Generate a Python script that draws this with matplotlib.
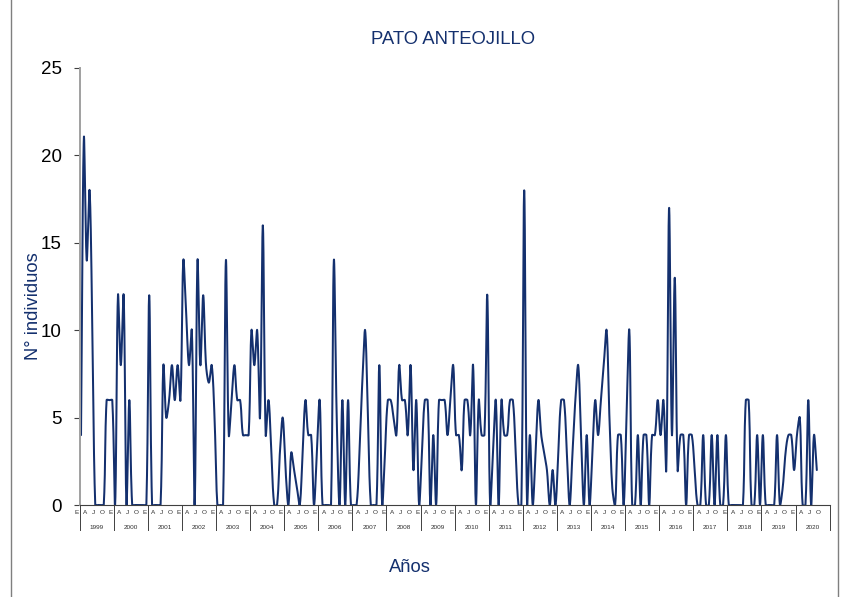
import numpy as np
import matplotlib
matplotlib.use("Agg")
import matplotlib.pyplot as plt
from matplotlib.lines import Line2D

plt.rcParams['font.family'] = ['Liberation Sans', 'DejaVu Sans']

title = "PATO ANTEOJILLO"
years = list(range(1999, 2021))
month_labels = ["E", "A", "J", "O"]
nan = np.nan

c1999 = [4, 21, 14, 18, 10, 0, 0, 0, 0, 6, 6, 6]
c2000 = [0, 12, 8, 12, 0, 6, 0, 0, 0, 0, 0, 0]
c2001 = [12, 0, 0, 0, 0, 8, 5, 6, 8, 6, 8, 6]
c2002 = [14, 11, 8, 10, 0, 14, 8, 12, 8, 7, 8, 5]
c2003 = [0, 0, 0, 14, 4, 6, 8, 6, 6, 4, 4, 4]
c2004 = [10, 8, 10, 5, 16, 4, 6, 3, 0, 0, 3, 5]
c2005 = [2, 0, 3, 2, 1, 0, 3, 6, 4, 4, 0, 3]
c2006 = [6, 0, 0, 0, 0, 14, 5, 0, 6, 0, 6, 0]
c2007 = [0, 0, 3, 7, 10, 5, 0, 0, 0, 8, 0, 3]
c2008 = [6, 6, 5, 4, 8, 6, 6, 4, 8, 2, 6, 0]
c2009 = [3, 6, 6, 0, 4, 0, 6, 6, 6, 4, 6, 8]
c2010 = [4, 4, 2, 6, 6, 4, 8, 0, 6, 4, 4, 12]
c2011 = [0, 3, 6, 0, 6, 4, 4, 6, 6, 3, 0, 0]
c2012 = [18, 0, 4, 0, 3, 6, 4, 3, 2, 0, 2, 0]
c2013 = [3, 6, 6, 3, 0, 3, 6, 8, 4, 0, 4, 0]
c2014 = [3, 6, 4, 6, 8, 10, 5, 1, 0, 4, 4, 0]
c2015 = [5, 10, 0, 0, 4, 0, 4, 4, 0, 4, 4, 6]
c2016 = [4, 6, 2, 17, 4, 13, 2, 4, 4, 0, 4, 4]
c2017 = [2, 0, 0, 4, 0, 0, 4, 0, 4, 0, 0, 4]
c2018 = [0, 0, 0, 0, 0, 0, 6, 6, 0, 0, 4, 0]
c2019 = [4, 0, 0, 0, 0, 4, 0, 1, 3, 4, 4, 2]
c2020 = [4, 5, 0, 0, 6, 0, 4, 2, nan, nan, nan, nan]

series = np.array(c1999 + c2000 + c2001 + c2002 + c2003 + c2004 + c2005 + c2006 +
                  c2007 + c2008 + c2009 + c2010 + c2011 + c2012 + c2013 + c2014 +
                  c2015 + c2016 + c2017 + c2018 + c2019 + c2020, dtype=float)


def excel_smooth(y, sx=2.84, sy=17.48, steps=24):
    """Bezier smoothing with distance-scaled control points (Excel-like)."""
    idx = np.where(~np.isnan(y))[0]
    P = np.column_stack([idx * sx, y[idx] * sy])
    n = len(P)
    t = np.linspace(0, 1, steps, endpoint=False)[:, None]
    out = []
    for k in range(n - 1):
        p0 = P[k - 1] if k > 0 else P[k]
        p1 = P[k]
        p2 = P[k + 1]
        p3 = P[k + 2] if k + 2 < n else P[k + 1]
        d01 = np.hypot(*(p1 - p0))
        d12 = np.hypot(*(p2 - p1))
        d23 = np.hypot(*(p3 - p2))
        s1 = d12 / (d01 + d12) / 3 if d01 + d12 > 0 else 0
        s2 = d12 / (d12 + d23) / 3 if d12 + d23 > 0 else 0
        c1 = p1 + (p2 - p0) * s1
        c2 = p2 - (p3 - p1) * s2
        b = ((1 - t) ** 3) * p1 + 3 * ((1 - t) ** 2) * t * c1 + 3 * (1 - t) * (t ** 2) * c2 + (t ** 3) * p2
        out.append(b)
    out.append(P[-1][None, :])
    B = np.vstack(out)
    return B[:, 0] / sx, B[:, 1] / sy


W, H = 846, 597
fig = plt.figure(figsize=(W / 100, H / 100), dpi=100)
ax = fig.add_axes([79.6 / W, 1 - 505 / H, 750 / W, 437 / H])

navy = "#14306e"
sx, sy = excel_smooth(series)
ax.plot(sx, sy, color=navy, lw=1.45, solid_joinstyle="round", solid_capstyle="round")

n_months = 12 * len(years)
ax.set_xlim(-0.5, n_months - 0.5)
ax.set_ylim(0, 25)
ax.set_yticks(range(0, 26, 5))
ax.tick_params(axis="y", labelsize=13.5, length=4, width=0.8, color="#404040", pad=9)
ax.set_xticks([])
for s in ["top", "right"]:
    ax.spines[s].set_visible(False)
ax.spines["left"].set_color("#a0a0a0")
ax.spines["left"].set_linewidth(1.4)
ax.spines["bottom"].set_color("#404040")
ax.spines["bottom"].set_linewidth(0.8)

trans = ax.get_xaxis_transform()
for yi, yr in enumerate(years):
    base = yi * 12
    for mi, lab in enumerate(month_labels):
        ax.text(base + mi * 3 - 1.6, -0.012, lab, transform=trans, ha="center",
                va="top", fontsize=4.6, color="#303030")
    ax.text(base + 5.5, -0.045, str(yr), transform=trans, ha="center", va="top",
            fontsize=4.6, color="#303030")
    ax.add_line(Line2D([base - 0.5, base - 0.5], [0, -0.058], transform=trans,
                       color="#404040", lw=0.7, clip_on=False))
ax.add_line(Line2D([n_months - 0.5, n_months - 0.5], [0, -0.058], transform=trans,
                   color="#404040", lw=0.7, clip_on=False))

fig.text(453 / W, 1 - 40 / H, title, ha="center", va="center", fontsize=13.3, color=navy)
fig.text(33 / W, 1 - 306 / H, "N° individuos", ha="center", va="center",
         rotation=90, fontsize=13.2, color=navy)
fig.text(410 / W, 1 - 567 / H, "Años", ha="center", va="center", fontsize=13.2, color=navy)

fig.add_artist(Line2D([11 / W, 11 / W], [0, 1], color="#7f7f7f", lw=1.0))
fig.add_artist(Line2D([838 / W, 838 / W], [0, 1], color="#7f7f7f", lw=1.0))

fig.savefig("out.png", dpi=100)
